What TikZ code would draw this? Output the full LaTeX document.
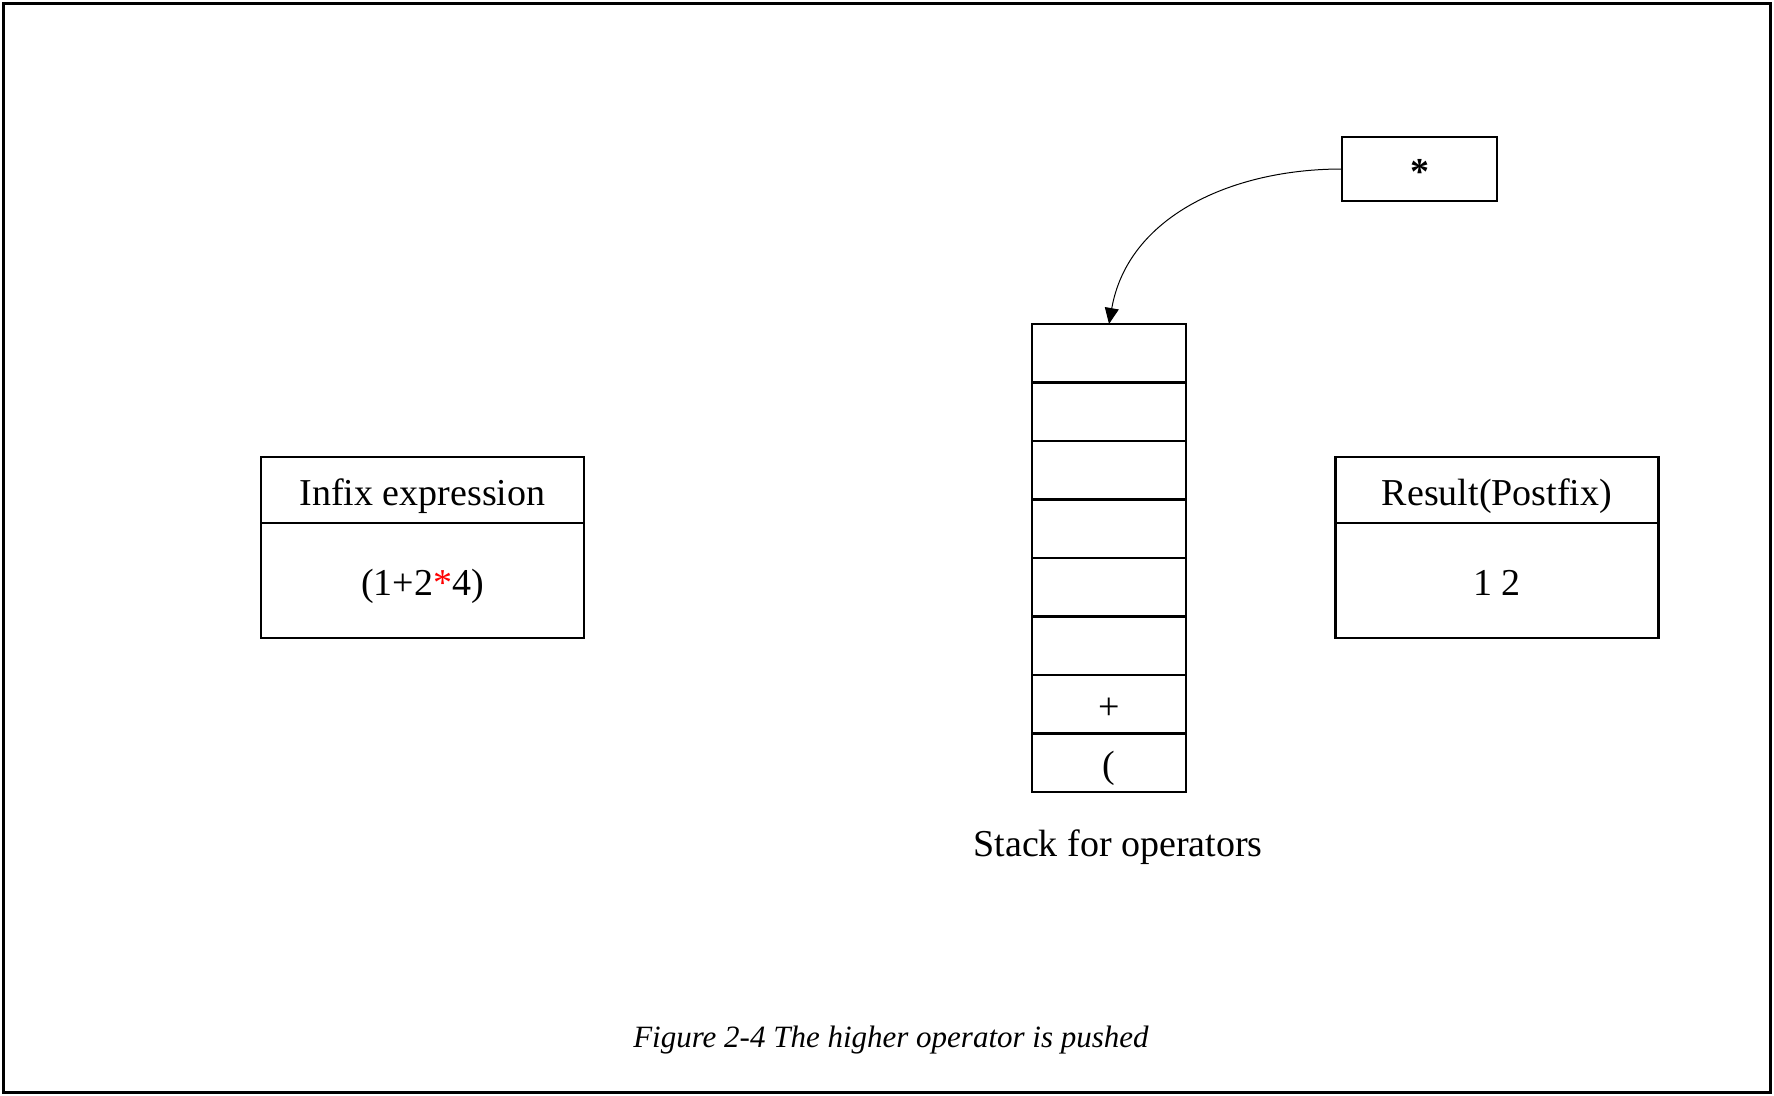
\documentclass[tikz,border=0pt]{standalone}
\usepackage{fontspec}
\setmainfont{Liberation Serif}
\usetikzlibrary{positioning,arrows.meta}

\tikzset{
  box/.style={draw, line width=1.2pt, outer sep=0pt, inner sep=0pt,
    text height=15.2pt, text depth=0pt,
    font=\fontsize{19}{23}\selectfont},
  cell/.style={box, minimum width=77pt, minimum height=29.25pt},
  headbox/.style={box, minimum width=161.5pt, minimum height=33pt},
  bodybox/.style={box, minimum width=161.5pt, minimum height=57.5pt},
}

\begin{document}
\begin{tikzpicture}[x=0.5pt, y=-0.5pt]

    % frame
    \useasboundingbox (0,0) rectangle (1774,1096);
    \draw[line width=1.8pt] (3.5,3.5) rectangle (1770.5,1092.5);

    % infix expression
    \node[headbox] (infixhead) at (422.5,490) {Infix expression};
    \node[bodybox, below=0pt of infixhead] (infixbody)
      {(1+2\textcolor{red}{*}4)};

    % result
    \node[headbox] (resulthead) at (1497,490) {Result(Postfix)};
    \node[bodybox, below=0pt of resulthead] (resultbody) {1 2};

    % stack for operators
    \node[cell] (cell1) at (1109,353.25) {};
    \foreach \i/\txt [remember=\i as \prev (initially 1)] in
        {2/{},3/{},4/{},5/{},6/{},7/{+},8/{(}}
      \node[cell, below=0pt of cell\prev] (cell\i) {\txt};
    \node[font=\fontsize{19}{23}\selectfont, below=15.5pt of cell8,
      xshift=4.5pt] (stacklabel) {Stack for operators};

    % operator to push
    \node[box, minimum width=77.5pt, minimum height=32pt]
      (star) at (1419.5,169) {\bfseries *};

    % edges
    \draw[-{Triangle[length=8pt,width=7pt]}, line width=0.5pt]
      (star.west) to[out=180, in=80] (cell1.north);

    % caption
    \node[font=\fontsize{15.5}{19}\selectfont\itshape] (caption)
      at (891,1040) {Figure 2-4 The higher operator is pushed};

\end{tikzpicture}
\end{document}
